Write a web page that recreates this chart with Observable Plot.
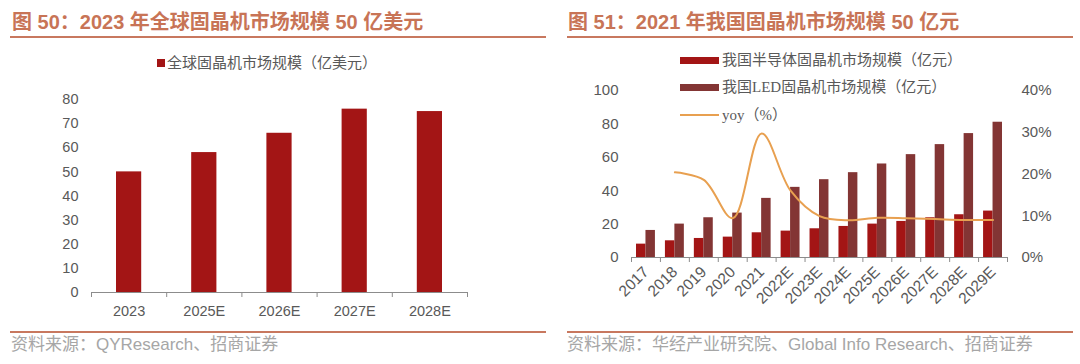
<!DOCTYPE html>
<html><head><meta charset="utf-8">
<script src="https://cdn.jsdelivr.net/npm/d3@7"></script>
<script src="https://cdn.jsdelivr.net/npm/@observablehq/plot@0.6"></script>
<style>
body{margin:0;background:#fff;}
#root{position:relative;width:1080px;height:364px;overflow:hidden;font-family:"Liberation Sans","Noto Sans CJK SC",sans-serif;}
.title{position:absolute;top:6px;font-size:20px;font-weight:bold;color:#c87456;white-space:nowrap;font-family:"Liberation Sans","Noto Sans CJK SC",sans-serif;}
.rule{position:absolute;height:2px;background:#c8785f;}
.foot{position:absolute;top:335px;font-size:17px;color:#a6a6a6;white-space:nowrap;line-height:20px;}
.plot{position:absolute;}
.leg{position:absolute;font-size:15px;color:#595959;white-space:nowrap;line-height:18px;}
.sw{position:absolute;}
</style></head><body><div id="root">
<div class="title" style="left:12px;">图 50：2023 年全球固晶机市场规模 50 亿美元</div>
<div class="title" style="left:568px;">图 51：2021 年我国固晶机市场规模 50 亿元</div>
<div class="rule" style="left:10px;top:36px;width:536px;"></div>
<div class="rule" style="left:567px;top:36px;width:506px;"></div>
<div class="rule" style="left:10px;top:331px;width:536px;"></div>
<div class="rule" style="left:567px;top:331px;width:506px;"></div>
<div class="foot" style="left:11px;">资料来源：QYResearch、招商证券</div>
<div class="foot" style="left:567px;">资料来源：华经产业研究院、Global Info Research、招商证券</div>
<div id="legL"></div>
<div id="legR"></div>
<div id="plotL" class="plot" style="left:0;top:90px;"></div>
<div id="plotR" class="plot" style="left:540px;top:80px;"></div>
</div>
<script>
// Figure 50: global die bonder market (100M USD)
const globalYears = ["2023","2025E","2026E","2027E","2028E"];
const globalSize = [50,58,66,76,75];
const globalLabel = "全球固晶机市场规模（亿美元）";

// Figure 51: China die bonder market (100M CNY)
const cnYears = ["2017","2018","2019","2020","2021","2022E","2023E","2024E","2025E","2026E","2027E","2028E","2029E"];
const semiSize = [8,10,11.4,12.2,14.8,15.8,17.2,18.6,20,21.6,23.8,25.6,27.8];
const ledSize = [16.2,20,23.8,26.6,35.4,42,46.6,50.8,56,61.6,67.6,74.2,81];
const yoyPct = [null,20.4,18.6,9.4,29.7,16,9.9,8.9,9.5,9.4,9.2,9.0,9.0];
const semiLabel = "我国半导体固晶机市场规模（亿元）";
const ledLabel = "我国LED固晶机市场规模（亿元）";
const yoyLabel = "yoy（%）";

const leftTicks = [0,20,40,60,80,100];
const rightTicksPct = [0,10,20,30,40];
const pctToLeft = 100 / 40; // right axis 0–40% maps onto left axis 0–100

const RED = "#a31515", BROWN = "#833534", ORANGE = "#e8a050";
const AXIS = "#8c8c8c", TXT = "#595959";

const globalData = globalYears.map((y,i)=>({i, year:y, v:globalSize[i]}));
const cnData = cnYears.map((y,i)=>({i, year:y, semi:semiSize[i], led:ledSize[i], yoy:yoyPct[i]}));

const left = Plot.plot({
  width:540, height:230, marginLeft:91, marginRight:73, marginTop:9, marginBottom:28,
  style:{fontFamily:"Liberation Sans, Arial, sans-serif", fontSize:"14.5px", color:TXT, background:"transparent"},
  x:{domain:[0,globalYears.length]},
  y:{domain:[0,80]},
  marks:[
    Plot.rectY(globalData, {x1:"i", x2:d=>d.i+1, y1:0, y2:"v", fill:RED, insetLeft:25, insetRight:25}),
    Plot.ruleY([0], {stroke:AXIS}),
    Plot.axisY({ticks:d3.range(0,81,10), tickSize:0, tickPadding:13, label:null}),
    Plot.axisX({ticks:d3.range(0,globalYears.length+1), tickSize:5, stroke:AXIS, tickFormat:()=>"", label:null}),
    Plot.axisX({ticks:globalYears.map((d,i)=>i+0.5), tickSize:0, tickPadding:13, tickFormat:t=>globalYears[Math.floor(t)], label:null})
  ]
});
document.getElementById("plotL").appendChild(left);

const right = Plot.plot({
  width:540, height:240, marginLeft:91, marginRight:73, marginTop:10, marginBottom:63,
  style:{fontFamily:"Liberation Sans, Arial, sans-serif", fontSize:"15px", color:TXT, background:"transparent"},
  x:{domain:[0,cnYears.length]},
  y:{domain:[0,100]},
  marks:[
    Plot.rectY(cnData, {x1:"i", x2:d=>d.i+0.5, y1:0, y2:"semi", fill:RED, insetLeft:5}),
    Plot.rectY(cnData, {x1:d=>d.i+0.5, x2:d=>d.i+1, y1:0, y2:"led", fill:BROWN, insetRight:5}),
    Plot.ruleY([0], {stroke:AXIS}),
    Plot.line(cnData.filter(d=>d.yoy!=null), {x:d=>d.i+0.5, y:d=>d.yoy*pctToLeft, stroke:ORANGE, strokeWidth:2, curve:"catmull-rom"}),
    Plot.axisY({ticks:leftTicks, tickSize:0, tickPadding:13, label:null}),
    Plot.axisY({anchor:"right", ticks:rightTicksPct.map(p=>p*pctToLeft), tickSize:0, tickPadding:14, tickFormat:d=>Math.round(d/pctToLeft)+"%", label:null}),
    Plot.axisX({ticks:d3.range(0,cnYears.length+1), tickSize:5, stroke:AXIS, tickFormat:()=>"", label:null}),
    Plot.axisX({ticks:cnYears.map((d,i)=>i+0.5), tickSize:0, tickPadding:12, tickRotate:-45, fontSize:15.5, tickFormat:t=>cnYears[Math.floor(t)], label:null})
  ]
});
document.getElementById("plotR").appendChild(right);

// legends (HTML, positioned)
function addLeg(parentId, items){
  const p = document.getElementById(parentId);
  for (const it of items){
    const sw = document.createElement("div");
    sw.className = "sw";
    Object.assign(sw.style, it.sw);
    p.appendChild(sw);
    const t = document.createElement("div");
    t.className = "leg";
    t.textContent = it.text;
    Object.assign(t.style, it.ts);
    p.appendChild(t);
  }
}
addLeg("legL", [
  {text:globalLabel, sw:{left:"157px",top:"59px",width:"8px",height:"8px",background:RED}, ts:{left:"167px",top:"54px"}}
]);
addLeg("legR", [
  {text:semiLabel, sw:{left:"680px",top:"57px",width:"39px",height:"7px",background:RED}, ts:{left:"722px",top:"51px",fontFamily:"'Liberation Serif','Noto Sans CJK SC',serif"}},
  {text:ledLabel, sw:{left:"680px",top:"84px",width:"39px",height:"7px",background:BROWN}, ts:{left:"722px",top:"78px",fontFamily:"'Liberation Serif','Noto Sans CJK SC',serif"}},
  {text:yoyLabel, sw:{left:"680px",top:"114px",width:"39px",height:"2px",background:ORANGE}, ts:{left:"722px",top:"106px",fontFamily:"'Liberation Serif','Noto Sans CJK SC',serif"}}
]);
</script>
</body></html>
